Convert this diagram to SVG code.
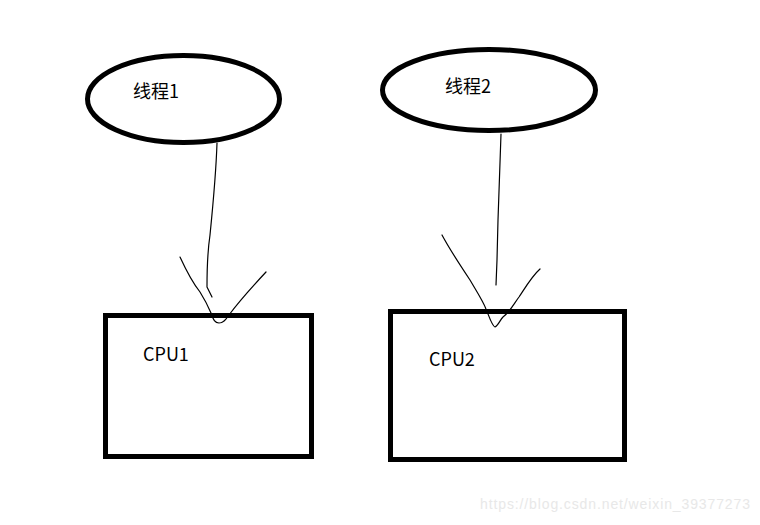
<svg xmlns="http://www.w3.org/2000/svg" width="760" height="525" viewBox="0 0 760 525">
<style>
.shape{fill:#fff;stroke:#000;stroke-width:5}
.lbl{font-family:"Noto Sans CJK SC","Microsoft YaHei","Liberation Sans",sans-serif;font-size:18px;fill:#000}
.pen{fill:none;stroke:#000;stroke-width:1.2;stroke-linecap:round;stroke-linejoin:round}
.wm{font-family:"Liberation Sans",Arial,sans-serif;font-size:14px;fill:#e8e8e8}
</style>
<rect width="760" height="525" fill="#fff"/>
<g id="thread1">
<ellipse class="shape" cx="183.5" cy="99" rx="96" ry="43.5"/>
<text class="lbl" x="133" y="98">线程1</text>
</g>
<g id="thread2">
<ellipse class="shape" cx="489" cy="90" rx="106.5" ry="40.5"/>
<text class="lbl" x="445" y="93">线程2</text>
</g>
<g id="cpu1">
<rect class="shape" x="105.5" y="315.5" width="206" height="141"/>
<text class="lbl" x="143" y="361">CPU1</text>
</g>
<g id="cpu2">
<rect class="shape" x="390.5" y="311.5" width="234" height="148"/>
<text class="lbl" x="429" y="366">CPU2</text>
</g>
<g id="connectors">
<path class="pen" d="M217,143 C216,175 213,205 210,235 C207,255 207,275 207,287 L212,297"/>
<path class="pen" d="M180,257 C186,270 192,282 200,292 C205,300 208,306 211,313 C213,318 214,323 219,323 C224,323 226,319 229,315 C240,300 252,287 266,272"/>
<path class="pen" d="M501,134 C500,165 499,195 498,220 L497,260 L496,285"/>
<path class="pen" d="M442,235 C450,250 460,265 470,280 C477,292 483,301 486,309 C489,316 492,326 495,327 C498,326 500,320 503,317 C510,312 515,302 519,297 C525,288 532,276 540,269"/>
</g>
<text class="wm" x="480" y="509" textLength="270">https://blog.csdn.net/weixin_39377273</text>
</svg>
